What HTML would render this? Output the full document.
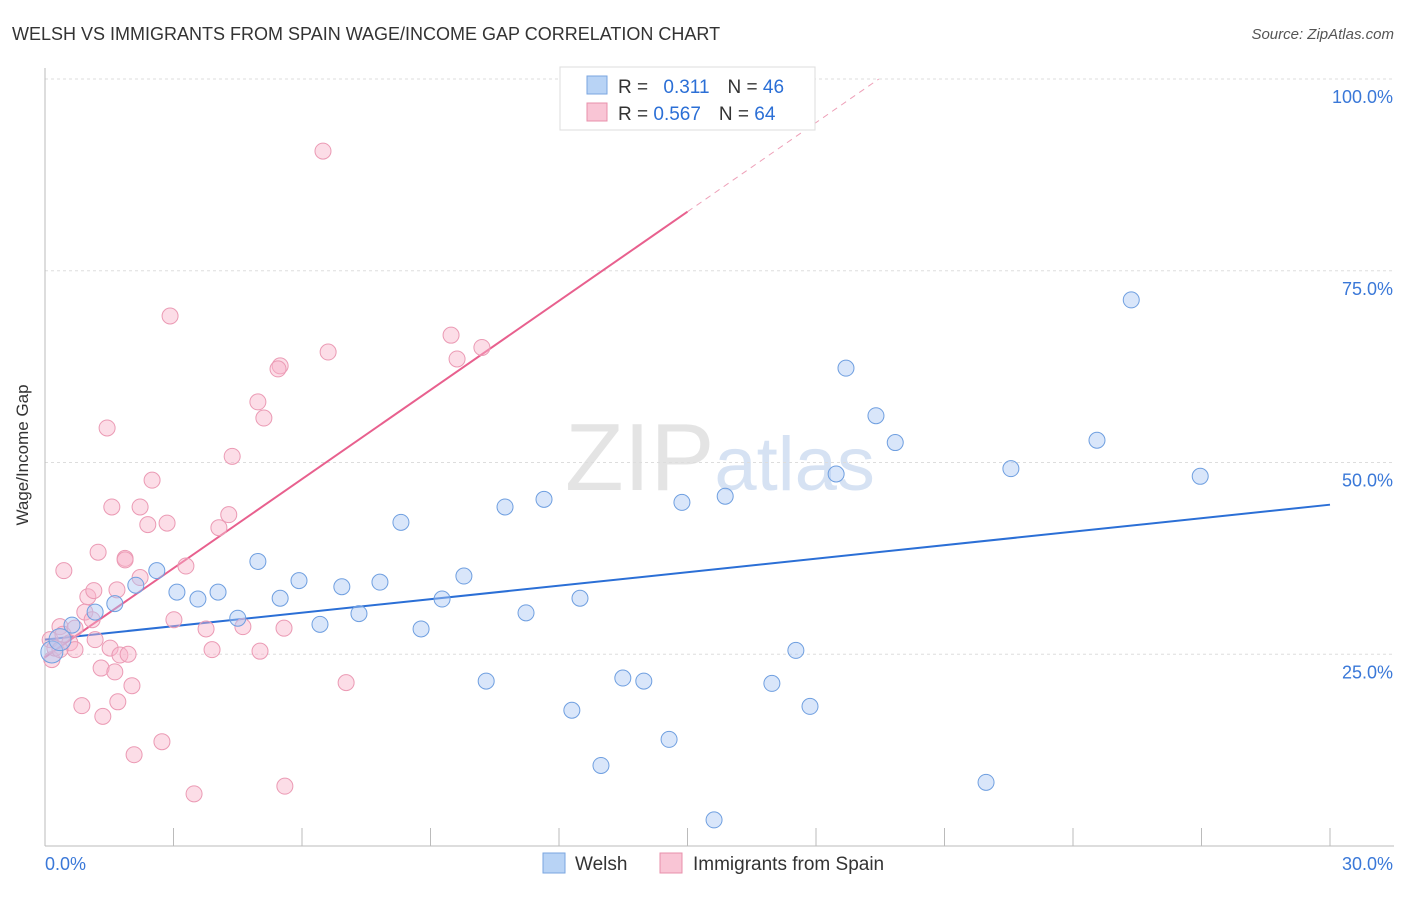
<!DOCTYPE html>
<html><head><meta charset="utf-8"><style>
body{margin:0;background:#fff;font-family:"Liberation Sans",sans-serif}
svg text{font-family:"Liberation Sans",sans-serif}
</style></head><body>
<svg id="chart" width="1406" height="892" xmlns="http://www.w3.org/2000/svg">
<text x="12" y="40" font-size="18" fill="#333">WELSH VS IMMIGRANTS FROM SPAIN WAGE/INCOME GAP CORRELATION CHART</text>
<text x="1394" y="39" font-size="15" fill="#555" text-anchor="end" font-style="italic">Source: ZipAtlas.com</text>
<text x="720" y="490" font-size="96" fill="#e4e4e4" text-anchor="middle" font-family="Liberation Serif">ZIP<tspan fill="#d6e2f3" font-family="Liberation Sans" font-size="76">atlas</tspan></text>
<text x="28" y="455" font-size="17" fill="#333" text-anchor="middle" transform="rotate(-90 28 455)">Wage/Income Gap</text>
<g id="grid"></g><g id="axes"></g><g id="lines"></g><g id="pts"></g>
<g>
<rect x="560" y="67" width="255" height="63" fill="#fff" stroke="#ddd"/>
<rect x="587" y="76" width="20" height="18" fill="#b8d3f5" stroke="#7aa6e0"/>
<rect x="587" y="103" width="20" height="18" fill="#f9c5d5" stroke="#e890ab"/>
<text x="618" y="93" font-size="19" fill="#333">R = <tspan fill="#2b6fd6" dx="10">0.311</tspan><tspan dx="18" fill="#333">N = </tspan><tspan fill="#2b6fd6">46</tspan></text>
<text x="618" y="120" font-size="19" fill="#333">R = <tspan fill="#2b6fd6">0.567</tspan><tspan dx="18" fill="#333">N = </tspan><tspan fill="#2b6fd6">64</tspan></text>
</g>
<g>
<rect x="543" y="853" width="22" height="20" fill="#b8d3f5" stroke="#7aa6e0"/>
<text x="575" y="870" font-size="19" fill="#333">Welsh</text>
<rect x="660" y="853" width="22" height="20" fill="#f9c5d5" stroke="#e890ab"/>
<text x="693" y="870" font-size="19" fill="#333">Immigrants from Spain</text>
</g>
</svg>
<script>
const yTicks=[25,50,75,100];
const yTickLabels=["25.0%","50.0%","75.0%","100.0%"];
const xTicks=[0,3,6,9,12,15,18,21,24,27,30];
const welshX=[0.16,0.35,0.63,1.17,1.63,2.12,2.61,3.08,3.57,4.04,4.5,4.97,5.49,5.93,6.42,6.93,7.33,7.82,8.31,8.78,9.27,9.78,10.3,10.74,11.23,11.65,12.3,12.49,12.98,13.49,13.98,14.57,14.87,15.62,15.88,16.97,17.53,17.86,18.47,18.7,19.4,19.85,21.97,22.55,24.56,25.36,26.97];
const welshY=[25.3,26.9,28.8,30.5,31.6,34.0,35.9,33.1,32.2,33.1,29.7,37.1,32.3,34.6,28.9,33.8,30.3,34.4,42.2,28.3,32.2,35.2,21.5,44.2,30.4,45.2,17.7,32.3,10.5,21.9,21.5,13.9,44.8,3.4,45.6,21.2,25.5,18.2,48.5,62.3,56.1,52.6,8.3,49.2,52.9,71.2,48.2];
const spainX=[0.12,0.16,0.23,0.35,0.42,0.44,0.58,0.7,0.7,0.86,0.93,1.0,1.1,1.14,1.17,1.24,1.31,1.35,1.45,1.52,1.56,1.63,1.68,1.7,1.75,1.87,1.94,2.03,2.08,2.22,2.22,2.4,2.5,2.73,2.85,2.92,3.01,3.29,3.48,3.76,3.9,4.06,4.29,4.37,4.62,4.97,5.02,5.11,5.49,5.44,5.58,5.6,6.49,6.61,7.03,9.48,9.62,10.2,1.87,0.35];
const spainY=[26.9,24.3,25.8,28.6,27.6,35.9,26.5,25.6,28.4,18.3,30.5,32.5,29.5,33.3,26.9,38.3,23.2,16.9,54.5,25.8,44.2,22.7,33.4,18.8,24.9,37.5,25.0,20.9,11.9,44.2,35.0,41.9,47.7,13.6,42.1,69.1,29.5,36.5,6.8,28.3,25.6,41.5,43.2,50.8,28.6,57.9,25.4,55.8,62.6,62.2,28.4,7.8,90.6,64.4,21.3,66.6,63.5,65.0,37.3,25.6];
const welshLine=[26.9,44.5];
const spainLine=[24.6,82.7];
const X0=45,X1=1330,Y0=846,Y100=79;
const sx=v=>X0+(X1-X0)*v/30, sy=v=>Y0+(Y100-Y0)*v/100;
const NS="http://www.w3.org/2000/svg";
function mk(tag,attrs,parent){const e=document.createElementNS(NS,tag);for(const k in attrs)e.setAttribute(k,attrs[k]);document.getElementById(parent).appendChild(e);return e;}
yTicks.forEach((t,i)=>{
 const g=mk('line',{x1:X0,x2:1394,y1:sy(t),y2:sy(t),stroke:'#ddd','stroke-dasharray':'3,3'},'grid');
 
 
 const l=mk('text',{x:1393,y:sy(t)+24,'font-size':18,fill:'#3a78d8','text-anchor':'end'},'axes');
 l.textContent=yTickLabels[i];
 
 
});
const ax=mk('line',{x1:X0,x2:X0,y1:68,y2:Y0,stroke:'#bbb'},'axes');


const bx=mk('line',{x1:X0,x2:1394,y1:Y0,y2:Y0,stroke:'#bbb'},'axes');


xTicks.forEach(t=>{const e=mk('line',{x1:sx(t),x2:sx(t),y1:Y0,y2:828,stroke:'#bbb'},'axes');
 
 });
[[0,"0.0%",'start',45],[30,"30.0%",'end',1393]].forEach(a=>{const e=mk('text',{x:a[3],y:870,'font-size':18,fill:'#3a78d8','text-anchor':a[2]},'axes');e.textContent=a[1];
 
 });
const wl=mk('line',{x1:sx(0),y1:sy(welshLine[0]),x2:sx(30),y2:sy(welshLine[1]),stroke:'#2b6fd6','stroke-width':2},'lines');


const sp=v=>spainLine[0]+(spainLine[1]-spainLine[0])*v/15;
const sl=mk('line',{x1:sx(0),y1:sy(sp(0)),x2:sx(15),y2:sy(sp(15)),stroke:'#e8608e','stroke-width':2},'lines');


const xe=(100-spainLine[0])/(spainLine[1]-spainLine[0])*15;
const sd=mk('line',{x1:sx(15),y1:sy(sp(15)),x2:sx(xe),y2:sy(100),stroke:'#eea0b8','stroke-width':1,'stroke-dasharray':'6,5'},'lines');


spainX.forEach((x,i)=>{const c=mk('circle',{cx:sx(x),cy:sy(spainY[i]),r:8,fill:'rgba(248,180,202,0.45)',stroke:'#eb9ab4','stroke-width':1},'pts');
 
 });
welshX.forEach((x,i)=>{const c=mk('circle',{cx:sx(x),cy:sy(welshY[i]),r:i<2?11:8,fill:'rgba(170,200,245,0.45)',stroke:'#6f9fe0','stroke-width':1},'pts');
 
 });
</script>
</body></html>
